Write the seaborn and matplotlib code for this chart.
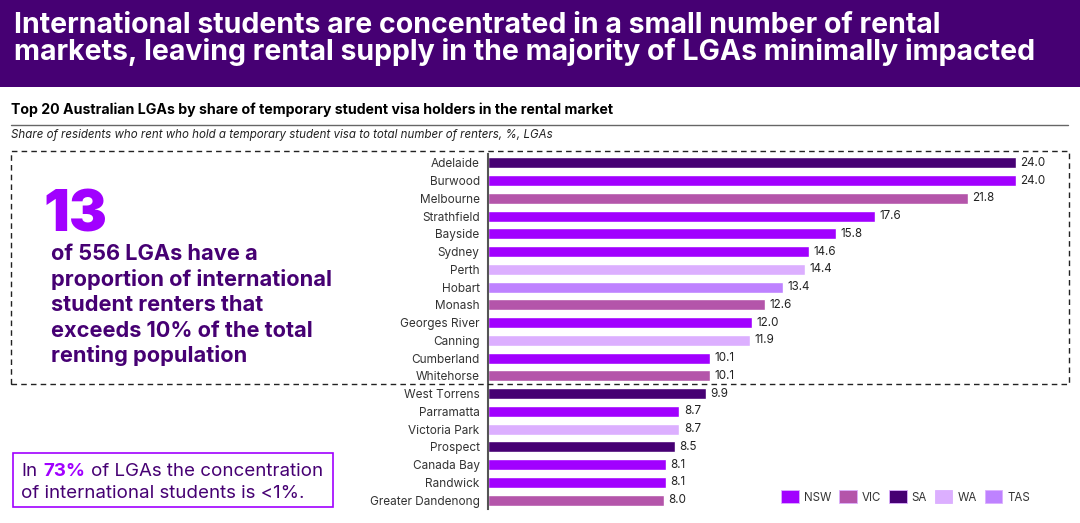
import matplotlib
matplotlib.use("Agg")
import matplotlib.pyplot as plt
import matplotlib.patches as mpatches
import pandas as pd
import seaborn as sns

lgas = ["Adelaide", "Burwood", "Melbourne", "Strathfield", "Bayside", "Sydney", "Perth",
        "Hobart", "Monash", "Georges River", "Canning", "Cumberland", "Whitehorse",
        "West Torrens", "Parramatta", "Victoria Park", "Prospect", "Canada Bay",
        "Randwick", "Greater Dandenong"]
shares = [24.0, 24.0, 21.8, 17.6, 15.8, 14.6, 14.4, 13.4, 12.6, 12.0, 11.9, 10.1, 10.1,
          9.9, 8.7, 8.7, 8.5, 8.1, 8.1, 8.0]
states = ["SA", "NSW", "VIC", "NSW", "NSW", "NSW", "WA", "TAS", "VIC", "NSW", "WA", "NSW", "VIC",
          "SA", "NSW", "WA", "SA", "NSW", "NSW", "VIC"]

state_colors = {"NSW": "#A100FF", "VIC": "#B455AA", "SA": "#460073", "WA": "#DCAFFF", "TAS": "#BE82FF"}

W, H = 1080, 523
PURPLE = "#460073"


def fx(px):
    return px / W


def fy(px):
    return 1 - px / H


sns.set_theme(style="white")
plt.rcParams["font.family"] = ["Inter", "DejaVu Sans"]

df = pd.DataFrame({"lga": lgas, "share": shares, "state": states})

fig = plt.figure(figsize=(W / 100, H / 100), dpi=100)
fig.patch.set_facecolor("white")

# banner
fig.patches.append(mpatches.Rectangle((0, fy(87)), 1, 87 / H, transform=fig.transFigure,
                                      facecolor=PURPLE, edgecolor="none"))
fig.text(fx(14), fy(33), "International students are concentrated in a small number of rental",
         color="white", fontsize=20.5, fontweight="bold", va="baseline")
fig.text(fx(14), fy(60), "markets, leaving rental supply in the majority of LGAs minimally impacted",
         color="white", fontsize=20.5, fontweight="bold", va="baseline")

# chart heading
fig.text(fx(11), fy(114), "Top 20 Australian LGAs by share of temporary student visa holders in the rental market",
         color="black", fontsize=10.2, fontweight="bold", va="baseline")
fig.add_artist(plt.Line2D([fx(11), fx(1068)], [fy(125), fy(125)], color="#666666", lw=1))
fig.text(fx(11), fy(138), "Share of residents who rent who hold a temporary student visa to total number of renters, %, LGAs",
         color="#222222", fontsize=8.3, fontstyle="italic", va="baseline")

# bars
ax = fig.add_axes([fx(488), fy(509), fx(1070 - 488), (509 - 154) / H])
sns.barplot(data=df, x="share", y="lga", hue="state", order=lgas, palette=state_colors,
            hue_order=list(state_colors), dodge=False, width=0.62, saturation=1, legend=False, ax=ax)
ax.set_xlim(0, (1070 - 488) / 22.0)
ax.set_ylim(19.5, -0.5)
ax.set_xlabel("")
ax.set_ylabel("")
ax.xaxis.set_visible(False)
ax.tick_params(axis="y", length=0, pad=6, labelsize=8.5, labelcolor="#333333")
sns.despine(ax=ax, left=False, top=True, right=True, bottom=True)
ax.spines["left"].set_color("#555555")
ax.spines["left"].set_linewidth(1.5)
ax.patch.set_alpha(0)

for i, value in enumerate(shares):
    ax.text(value + 0.2, i, f"{value:.1f}", va="center", ha="left", fontsize=8.4, color="#222222")

# dashed callout box
fig.patches.append(mpatches.Rectangle((fx(11), fy(384)), fx(1069 - 11), (384 - 151) / H,
                                      transform=fig.transFigure, facecolor="none", edgecolor="#222222",
                                      lw=1, linestyle=(0, (4, 3)), zorder=5))

fig.text(fx(43), fy(231), "13", color="#A100FF", fontsize=41, fontweight="black", va="baseline")
callout = ["of 556 LGAs have a", "proportion of international", "student renters that",
           "exceeds 10% of the total", "renting population"]
for line, base in zip(callout, [260, 286, 311, 337, 362]):
    fig.text(fx(51), fy(base), line, color=PURPLE, fontsize=15.7, fontweight="bold", va="baseline")

# 73% box
fig.patches.append(mpatches.Rectangle((fx(13), fy(507)), fx(333 - 13), (507 - 453) / H,
                                      transform=fig.transFigure, facecolor="white", edgecolor="#A100FF", lw=1.2))
renderer = fig.canvas.get_renderer()
x_px = 21
for part, color, weight in [("In", PURPLE, "normal"), ("73%", "#A100FF", "bold"),
                            ("of LGAs the concentration", PURPLE, "normal")]:
    t = fig.text(fx(x_px), fy(476), part, color=color, fontsize=13.5, fontweight=weight,
                 va="baseline", zorder=6)
    x_px += t.get_window_extent(renderer).width + 6
fig.text(fx(21), fy(498), "of international students is <1%.", color=PURPLE, fontsize=13.5,
         va="baseline", zorder=6)

# legend
handles = [mpatches.Patch(facecolor=c, edgecolor="#DCAFFF", lw=0.6, label=s) for s, c in state_colors.items()]
fig.legend(handles=handles, loc="center left", bbox_to_anchor=(fx(771), fy(497)), ncol=5, frameon=False,
           fontsize=8.3, handlelength=1.5, handleheight=1.3, handletextpad=0.45, columnspacing=0.7,
           labelcolor="#333333")

fig.savefig("out.png", dpi=100)
